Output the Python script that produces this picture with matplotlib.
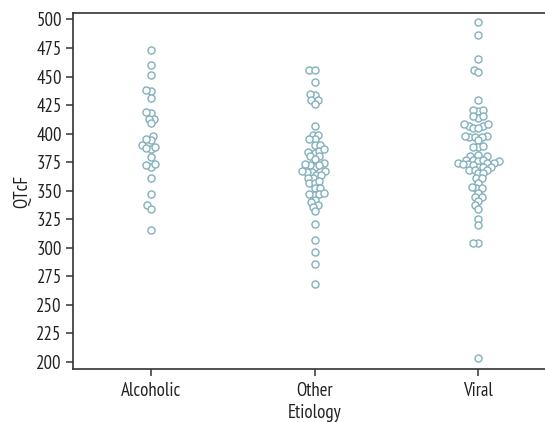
import matplotlib
matplotlib.use("Agg")
import matplotlib.pyplot as plt
import pandas as pd
import seaborn as sns

categories = ["Alcoholic", "Other", "Viral"]

alcoholic = [473, 460, 451, 437, 438, 431, 418, 419, 413, 413, 409, 398, 394, 395,
             390, 386, 387, 388, 379, 371, 372, 373, 361, 347, 337, 334, 315]

other = [456, 456, 445, 434, 435, 429, 429, 426, 407, 399, 399, 395, 395, 390, 390,
         383, 384, 385, 386, 380, 380, 378, 374, 371, 372, 372, 373, 366, 366, 367, 367,
         364, 364, 361, 361, 357, 357, 358, 352, 352, 346, 347, 347, 348, 342, 340,
         337, 336, 332, 321, 307, 296, 286, 268]

viral = [498, 486, 465, 456, 454, 429, 420, 421, 421, 414, 415, 415, 407, 407, 408, 408,
         405, 405, 397, 397, 398, 398, 397, 394, 388, 388, 389, 380, 380, 381,
         377, 377, 376, 376, 377, 374, 374, 373, 373, 374, 371, 371, 372, 371,
         368, 368, 368, 365, 365, 361, 361, 357, 352, 352, 353, 348, 344, 344,
         341, 337, 334, 325, 320, 304, 304, 203]

yticks = [200, 225, 250, 275, 300, 325, 350, 375, 400, 425, 450, 475, 500]

plt.rcParams["font.family"] = ["PT Sans Narrow", "DejaVu Sans"]

df = pd.DataFrame({
    "Etiology": ["Alcoholic"] * len(alcoholic) + ["Other"] * len(other) + ["Viral"] * len(viral),
    "QTcF": alcoholic + other + viral,
})

fig = plt.figure(figsize=(5.45, 4.22), dpi=100)
ax = fig.add_axes([73 / 545, 1 - 369 / 422, (556 - 73) / 545, (369 - 13) / 422])

# lay out the swarm with a compact point size (the reference lets circles overlap)
sns.swarmplot(data=df, x="Etiology", y="QTcF", order=categories, ax=ax,
              color="white", edgecolor="#82b1bb", linewidth=1.0, size=2.5)
ax.set_xlim(-0.475, 2.475)
ax.set_ylim(193.5, 505.7)
fig.canvas.draw()

offsets = []
for coll in list(ax.collections):
    offsets.append(coll.get_offsets().copy())
    coll.remove()
for off in offsets:
    ax.scatter(off[:, 0], off[:, 1], s=26, facecolor="white", edgecolor="#82b1bb",
               linewidth=1.0, zorder=3)

ax.set_xlim(-0.475, 2.475)
ax.set_ylim(193.5, 505.7)
ax.set_xticks(range(len(categories)))
ax.set_xticklabels(categories)
ax.set_yticks(yticks)
ax.set_yticklabels([str(t) for t in yticks])

for s in ax.spines.values():
    s.set_color("#333333")
    s.set_linewidth(1.2)

ax.tick_params(axis="both", length=5, width=1.1, color="#333333", labelsize=13.5,
               labelcolor="#222222", pad=3)
ax.tick_params(axis="x", pad=4)
ax.set_xlabel("Etiology", fontsize=13.5, color="#222222", labelpad=3)
ax.set_ylabel("QTcF", fontsize=13.5, color="#222222", labelpad=4)

fig.savefig("out.png", dpi=100)
